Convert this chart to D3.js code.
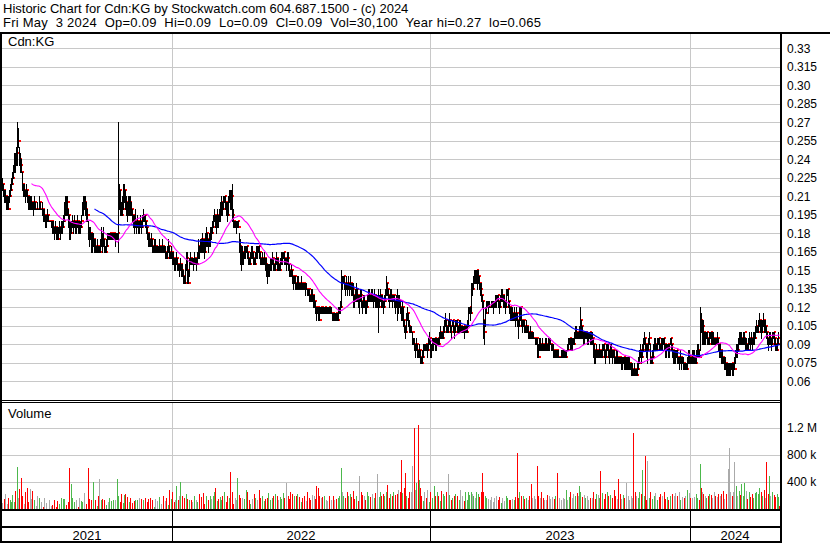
<!DOCTYPE html>
<html><head><meta charset="utf-8">
<script src="https://cdn.jsdelivr.net/npm/d3@7"></script>
<style>
body{margin:0;background:#fff}
svg{display:block}
text{font-family:"Liberation Sans",Arial,sans-serif;fill:#000}
</style>
</head><body>
<svg id="chart" width="830" height="543"></svg>
<script>
// ---------- DATA (prices in cents, volume in thousands of shares) ----------
const titleLine1 = "Historic Chart for Cdn:KG by Stockwatch.com 604.687.1500 - (c) 2024";
const titleLine2 = "Fri May  3 2024  Op=0.09  Hi=0.09  Lo=0.09  Cl=0.09  Vol=30,100  Year hi=0.27  lo=0.065";
const symbolLabel = "Cdn:KG";
const volumeLabel = "Volume";
const yearLabels = ["2021", "2022", "2023", "2024"];
const yearStartDay = [0, 170, 428, 688];
const priceTickLabels = ["0.06","0.075","0.09","0.105","0.12","0.135","0.15","0.165","0.18","0.195","0.21","0.225","0.24","0.255","0.27","0.285","0.30","0.315","0.33"];
const volumeTickValues = [400, 800, 1200];
const volumeTickLabels = ["400 k", "800 k", "1.2 M"];
const maShortPeriod = 30;
const maLongPeriod = 93;

const high = [
22.5,22,21.5,21.5,21,21,21,21.5,22,22.5,
23,23.5,24.5,24.5,25,27,26.5,25,24.5,24,
23,22,22,21.5,22,21.5,21,21,21,21,
20.5,20.5,21,20.5,20,20.5,20,21,20.5,20,
20.5,20,20,19.5,19.5,20,19.5,19,19,19,
19,19,18.5,19,18.5,18.5,18.5,19,18.5,19,
19,19.5,20.5,21,21,21,20,19.5,19,19,
19.5,19,19.5,19,19,19.5,19,19,19,19.5,
20.5,21,21,21,20.5,20,19,18.5,18.5,18,
18,18,17.5,17.5,17,17.5,17,17,17.5,18.5,
18,18.5,17.5,17,17.5,18,18,18,18,18,
18,18,18,18,18,18,27,22,21.5,20.5,
21,22,22,21.5,21,20.5,21,21,21,20.5,
20,19.5,19.5,20,19,19.5,19,19,19.5,19,
19.5,20,19.5,19.5,19,18.5,18,18,17.5,18,
17.5,17,17.5,17.5,17,17,17,17.5,17,17,
17.5,17,17,17,16.5,17,17.5,17,16.5,17,
16.5,16.5,16,16,16.5,16,15.5,15.5,16,15.5,
15.5,15,14.5,15.5,16.5,16.5,15,16,16.5,16,
16,16,16.5,16,16,16.5,17.5,17,17.5,17.5,
18,17.5,17.5,18,18.5,18,17.5,18,18.5,18.5,
19,19.5,20,19.5,19.5,20,19.5,20,20.5,21,
20.5,21,21,21,20.5,20.5,21,21.5,21.5,21.5,
22,20,19,19,19,19,19,18,17.5,17,
17,16.5,17,17,17,17,16.5,16,16.5,17,
17,16.5,16,16.5,17,17,17,17,16.5,16,
16.5,16,16.5,16,16,15.5,15.5,15.5,16,16,
16.5,16,15.5,16,16.5,16,16,15.5,16,16.5,
16.5,16.5,16.5,16,16,16.5,16.5,15.5,15,15.5,
15,14.5,14.5,14.5,14,14.5,14.5,14,14,14.5,
14,14,14,14,14,13.5,13.5,13.5,13,13.5,
13.5,13,13,12.5,12,12,12,12,12,12,
12,12,12,12,12,12,12,12,12,12,
11.5,11.5,11.5,11.5,11.5,11.5,12,12,12.5,15,
14.5,14.5,14.5,14,14.5,14,14.5,14,14.5,14,
14,14,13,13.5,14,13.5,13,13,13.5,13.5,
12.5,13,13,12.5,12.5,13,13.5,13.5,13,13.5,
13.5,13,13.5,13,13,13,13.5,13,13.5,13,
13,12.5,13,13.5,14.5,14,13.5,13,13.5,13.5,
13,13,13,12.5,13,13.5,13,13,12.5,12,
12.5,12,11,10.5,11.5,12,11.5,11,10.5,10.5,
10,9.5,9.5,9,9.5,9,8.5,9,8.5,8,
8.5,9,9,9,9,9,9.5,10,9.5,9,
9.5,9.5,9.5,9.5,9.5,9.5,9.5,10,10.5,10,
10,10.5,11,11.5,11,10.5,11,11.5,11,10.5,
11,11,10.5,11,11,11,10.5,11,11,10.5,
10.5,10.5,10.5,10.5,10.5,11,12,12,12,14,
14,14.5,15,15,15,15,15,14.5,14,14,
13,12.5,11,12,12.5,12.5,12.5,12.5,12,12.5,
12.5,12.5,12.5,13,13,13,13,12.5,13,13.5,
13.5,13,13,12.5,13.5,13.5,13.5,12.5,12,12,
12,11.5,12,11.5,12,11.5,11,12,12,12,
11,11,11,10.5,11,10.5,10.5,10,10.5,10,
10,10,9.5,9.5,9.5,9.5,9,9.5,9.5,9,
9.5,9,9,9.5,9.5,9,9.5,9.5,9.5,9,
9,9,8.5,8.5,8.5,8.5,8.5,8,8,8.5,
8.5,8.5,8.5,8.5,8.5,9,9.5,9.5,9.5,9.5,
9.5,9.5,10,10.5,10.5,10,10,10.5,12,11,
10.5,10,10,10,10,10,10,10,10,10,
10,9.5,9,8.5,9,8.5,8.5,9,8.5,8.5,
9,9,9,8.5,9,9,9,8.5,9,9,
8.5,8.5,8.5,8,8.5,8.5,8,8,8,8,
8,8,8,8,8,8,8,8,7.5,7.5,
7.5,7,7.5,7,7,7.5,8,8.5,9,8.5,
9,9.5,10,9.5,9,9,9.5,10,9,8,
8.5,9,9.5,9.5,9,9.5,9.5,9.5,9,9.5,
9.5,9.5,9.5,9,9,9,9,9,9.5,9.5,
9,8.5,8.5,8.5,8.5,8.5,8,8,8.5,8,
8,8,7.5,7.5,7.5,8,8.5,8.5,8,8,
8.5,8.5,8.5,8,8.5,9,9,8.5,12,11.5,
11,11,10,10,10,10,9.5,10,10,10,
10,10,9.5,9.5,9.5,10,9.5,9,9,8.5,
8.5,8,8,8,7.5,7.5,7.5,7.5,7.5,7.5,
7.5,7.5,8,8.5,9,9,9.5,10,10,10,
9.5,10,10,9.5,9.5,9,9.5,10,9.5,10,
9.5,10,10,10.5,11,10.5,11,11.5,11,11,
11,11.5,11,11,10.5,10,9.5,10,10,9.5,
10,10,10,9.5,9,9.5,10,9
];

const low = [
21.5,21,20.5,20.5,20,20,20,20.5,21,21.5,
22,22.5,23,23,23.5,23.5,25,23.5,23,23,
21.5,21,21,20.5,21,20.5,20,20,20,20,
20,19.5,20,20,20,20,20,20,20,20,
19.5,19,19,18.5,18.5,19,19,19,19,18.5,
18,18,17.5,18,17.5,17.5,17.5,18,17.5,18,
18,18.5,19,19.5,19.5,19.5,18.5,17.5,17.5,18,
18.5,18,18.5,18,18,18.5,18,18,18,18.5,
19.5,19.5,20,19.5,19,19,17.5,17,17.5,16.5,
16.5,17,16.5,16.5,16.5,16.5,16.5,16.5,16.5,17,
16.5,17,16.5,16.5,16.5,17,17.5,17.5,17.5,17.5,
17.5,17.5,17.5,17,17.5,17.5,16.5,20,19.5,19.5,
19.5,20,20.5,20,19.5,19,19.5,19.5,19.5,19.5,
19,18.5,18,18.5,18,18.5,18,18,18.5,18,
18.5,19,19,18.5,18,17.5,17,17,17,17,
16.5,16.5,16.5,16.5,16.5,16.5,16.5,16.5,16.5,16.5,
16.5,16.5,16.5,16,16,16,16.5,16,16,16,
15.5,15.5,15,15,15.5,15,15,14.5,15,14.5,
14.5,14,14,14,15,14,14,14.5,15.5,15.5,
15.5,15,15.5,15.5,15,15.5,16,16,16.5,16.5,
16.5,16.5,16,16.5,17,17,16.5,17,17,17.5,
18,18.5,19,18.5,18,18.5,18.5,19,19,19.5,
19.5,20,20.5,20,19.5,19,19.5,20.5,20,20,
19,18.5,18.5,18.5,18,18.5,18.5,16.5,15.5,15,
15.5,15.5,16,16,16.5,16,15.5,15.5,15.5,16,
16,15.5,15.5,15.5,16,16,16.5,16,15.5,15.5,
15.5,15.5,15.5,15,14.5,14,14.5,14.5,15,15,
15.5,15,15,15,15.5,15,15,15,15,15.5,
15.5,16,15.5,15.5,15,15.5,15,14.5,14.5,14.5,
14,13.5,14,13.5,13.5,13.5,13.5,13.5,13.5,13.5,
13.5,13.5,13.5,13,13.5,13,13,12.5,12.5,12.5,
12.5,12,12,11.5,11,11.5,11,11,11.5,11.5,
11.5,11.5,11.5,11.5,11.5,11.5,11.5,11.5,11.5,11.5,
11,11,11,11,11,11,11,11.5,11.5,12,
13.5,14,13.5,13,13.5,13,13.5,13,13.5,13,
13,12,12,12.5,12.5,12.5,12,11.5,12.5,12,
11.5,12,12,11.5,11.5,12,12.5,12.5,12.5,12.5,
12.5,12,12.5,12,12,12,10,12,12.5,12,
12,11.5,12,12.5,13,13,12.5,12,12.5,12.5,
12,12.5,12,11.5,12,11,11.5,12,11.5,11,
11,10.5,10,9.5,10,11,10.5,10,10,10,
9,9,8.5,8,8.5,8,8,8,7.5,7.5,
7.5,8,8.5,8.5,8.5,8,8.5,9,8,8,
8.5,8.5,9,8.5,8.5,9,9,9,9.5,9.5,
9.5,9.5,10,10.5,10,10,10,10.5,10,9.5,
10.5,10,9.5,10,10.5,10,10,10,10,10,
10,10,9.5,10,10,10,10.5,11.5,11,11.5,
13,13.5,14,14,14,13.5,14,13.5,13,12.5,
12,9.5,9,10.5,11.5,12,11.5,12,12,12,
12,11.5,12,12,12,12.5,12,11.5,12,12.5,
12.5,12,12,11.5,12,13,12,11.5,11,11,
11,11,11,10.5,11,10.5,9.5,10.5,11,10.5,
10,10.5,10,10,10,10,9.5,9.5,9.5,9.5,
9.5,9.5,9.5,9,9,8,8,8.5,8.5,8.5,
8.5,8.5,8.5,8.5,8.5,8.5,8.5,8.5,9,8.5,
8.5,8,8,8,8,8,8,8,8,8,
8,8,8,8,8,8.5,8.5,9,8.5,8.5,
8.5,9,9,9.5,9.5,9.5,9.5,9.5,9.5,9.5,
9.5,9,9,9.5,9.5,9,9,9.5,9,9,
9,8,7.5,7.5,8,8,8,8,8,8,
8,8.5,8,7.5,8,8.5,8,7.5,8,8,
7.5,8,7.5,7.5,7.5,7.5,7.5,7.5,7.5,7,
7,7.5,7,7,7,7,7,7,7,6.5,
6.5,6.5,6.5,6.5,6.5,6.5,7,7.5,8,7.5,
8,8.5,9,8.5,8,7.5,8.5,9,7.5,7.5,
7.5,8,8.5,8.5,8.5,8.5,9,8.5,8.5,8.5,
8.5,9,8.5,8,8,8.5,8,8,9,8.5,
8,7.5,7.5,7.5,8,7.5,7.5,7,7.5,7,
7.5,7,7,7,7,7,7.5,7.5,7.5,7.5,
7.5,7.5,7.5,7.5,7.5,8,8,8,8.5,10,
9,9,9,9,9.5,9,9,9,9.5,9,
9,9,9,9,9,9,8.5,8,8,7.5,
7.5,7.5,7,7,6.5,6.5,6.5,6.5,6.5,7,
6.5,6.5,7,7.5,8,8,8.5,9,9,9,
9,9,9,8.5,8.5,8.5,8.5,9,8.5,9,
8.5,9,9,9.5,10,10,10,10.5,10,9.5,
10,10.5,10,10,9.5,9,8.5,9,9,8.5,
9,9.5,9,8.5,8.5,8.5,9,9
];

const close = [
22,21.5,21,21,20.5,20.5,20,21,21.5,22,
22.5,23.5,24,23.5,24.5,25.5,25.5,24,23.5,23,
22,21.5,21.5,21,21.5,21,20.5,20.5,20.5,20.5,
20,20,20.5,20,20,20,20,20.5,20,20,
20,19.5,19.5,19,19,19.5,19,19,19,19,
18.5,18.5,18,18.5,18,17.5,18,18.5,18,18.5,
18.5,19,19.5,20.5,20,20.5,19.5,18.5,18,18.5,
19,18.5,19,18.5,18.5,19,18.5,18.5,18.5,19,
20,20.5,20.5,20,19.5,19.5,18,17.5,18,17,
17,17.5,17,16.5,16.5,17,16.5,16.5,17,17.5,
17,17.5,16.5,16.5,17,17.5,17.5,18,17.5,18,
17.5,18,17.5,17.5,17.5,18,21,21.5,20,19.5,
20,21,21.5,20.5,20,19.5,20,20.5,20,20,
19.5,19,18.5,19,18.5,19,18.5,18.5,19,18.5,
19,19.5,19.5,19,18.5,18,17.5,17.5,17,17.5,
17,16.5,17,17,16.5,16.5,16.5,17,16.5,16.5,
17,16.5,16.5,16.5,16,16.5,17,16.5,16,16.5,
16,16,15.5,15.5,16,15.5,15,15,15.5,15,
14.5,14.5,14,15,16,15,14,15.5,16,15.5,
15.5,15.5,16,15.5,15.5,16,17,16.5,17.5,17,
17.5,17,16.5,17.5,18,17.5,17,17.5,18,18,
18.5,19,19.5,19,18.5,19.5,19,19.5,20,20.5,
20,20.5,21,20.5,20,19.5,20.5,21,20.5,21,
19.5,19,18.5,18.5,18.5,19,18.5,17,16.5,16.5,
16.5,16,16.5,16.5,17,16.5,16,15.5,16,16.5,
16.5,16,15.5,16,16.5,16.5,17,16.5,16,15.5,
16,15.5,16,15.5,15,14.5,15,15,15.5,15.5,
16,15.5,15,15.5,16,15.5,15.5,15,15.5,16,
16,16.5,16,15.5,15.5,16,15.5,15,14.5,15,
14.5,14,14.5,14,13.5,14,14,13.5,13.5,14,
13.5,14,13.5,13.5,13.5,13,13.5,13,12.5,13,
13,12.5,12.5,12,11.5,12,11.5,11,12,12,
11.5,11.5,12,11.5,11.5,11.5,12,11.5,11.5,11.5,
11.5,11,11,11.5,11,11,11.5,12,12,14,
14,14.5,14,13.5,14,13.5,14,13.5,14,13.5,
13.5,13,12.5,13,13.5,13,12.5,12.5,13,12.5,
12,12.5,12.5,12,12,12.5,13,13,12.5,13,
13,12.5,13,12.5,12.5,12.5,12,12.5,13,12.5,
12.5,12,12.5,13,14,13.5,13,12.5,13,13,
12.5,13,12.5,12,12.5,12,12,12.5,12,11.5,
12,11,10.5,10,11,11.5,10.5,10,10,10,
10,9,8.5,8.5,9,8.5,8,8.5,8,7.5,
8,8.5,8.5,9,8.5,8.5,9,9.5,8.5,8.5,
9,9,9.5,9,9,9.5,9,9.5,10,9.5,
9.5,10,10.5,11,10.5,10,10,11,10.5,10,
11,10.5,10,10.5,11,10.5,10,10.5,10.5,10,
10,10.5,10,10.5,10,10.5,11.5,12,11.5,13.5,
13.5,14,14.5,14.5,15,14,14.5,14,13.5,13,
12.5,11,10,11.5,12,12,12,12,12,12,
12,12,12,12.5,12.5,13,12.5,12,12.5,13,
13,12.5,12.5,12,13,13.5,12.5,12,11.5,11.5,
11.5,11,11.5,11,11.5,11,10.5,11.5,12,11,
10.5,11,10.5,10,10.5,10,10,9.5,10,9.5,
9.5,9.5,9.5,9.5,9.5,8.5,8,9,9,8.5,
9,8.5,8.5,9,9,8.5,9,9,9,8.5,
8.5,8.5,8,8.5,8.5,8,8,8,8,8,
8,8,8,8,8.5,8.5,9,9.5,9,9,
9,9,9.5,10,10,9.5,9.5,10,11,10.5,
10,9.5,9.5,10,9.5,9.5,9.5,10,9.5,9.5,
9.5,9,8.5,8,8.5,8,8,8.5,8,8,
8.5,9,8.5,8,8.5,9,8.5,8,8.5,8.5,
8,8.5,8,7.5,8,8,7.5,8,7.5,7.5,
7.5,8,7.5,7.5,7.5,7.5,7.5,7.5,7,7,
7,6.5,7,6.5,6.5,7,7.5,8,8.5,8,
8.5,9,9.5,9,8.5,8.5,9,9.5,8,7.5,
8,8.5,9,9,8.5,9,9.5,9,8.5,9,
9,9.5,9,8.5,8.5,9,8.5,8.5,9.5,9,
8.5,8,8,8,8.5,8,7.5,7.5,8,7.5,
7.5,7.5,7,7,7,7.5,8,8,7.5,8,
8,8,8,7.5,8,8.5,8.5,8,11,10.5,
10.5,10,9.5,9.5,10,9.5,9,9.5,10,9.5,
9.5,9.5,9.5,9,9.5,9.5,9,8.5,8.5,8,
8,7.5,7.5,7.5,7,7,7,7,7,7.5,
7,7,7,8,8.5,8.5,9,9.5,9,9.5,
9,9.5,10,9,9,8.5,9,9.5,9,9.5,
9,9.5,9.5,10,10.5,10,10.5,11,10.5,10,
10.5,11,10.5,10.5,10,9.5,9,9.5,9.5,9,
9.5,10,9.5,9,8.5,9,9.5,9
];

const volume = [
80,0,140,210,0,60,160,0,120,90,
200,0,100,260,0,608,150,290,0,450,
180,0,60,250,0,310,90,0,290,140,
260,0,120,0,30,180,0,150,0,90,
0,20,160,0,80,0,0,125,0,35,
45,0,120,0,15,110,0,70,0,160,
0,135,140,0,55,0,100,600,0,370,
160,0,90,0,130,0,20,150,0,110,
100,0,230,0,70,0,600,145,0,130,
0,400,0,120,0,40,190,430,0,130,
140,0,120,0,50,0,90,160,0,110,
0,130,0,120,0,430,180,0,90,220,
0,80,200,220,0,170,0,90,150,0,
80,0,110,130,0,120,0,150,0,140,
0,120,0,160,0,90,140,0,150,0,
130,0,20,140,0,110,0,170,0,60,
0,180,0,110,160,0,50,270,0,140,
250,0,100,130,330,0,120,180,400,0,
190,0,150,0,210,140,0,130,0,130,
100,0,180,0,120,90,0,210,0,170,
0,230,70,0,190,0,120,0,180,140,
0,190,250,300,0,110,140,0,170,130,
190,0,240,0,100,180,0,160,540,0,
250,70,0,160,130,450,0,200,150,0,
160,0,140,0,270,250,0,130,60,0,
140,0,220,150,0,130,0,280,160,0,
180,0,110,140,0,160,230,0,130,0,
160,190,0,220,0,180,130,0,170,140,
0,230,160,0,375,0,180,140,250,0,
210,0,190,0,180,220,0,170,0,100,
160,0,180,0,110,240,0,160,120,0,
200,0,180,140,330,0,300,190,0,150,
170,0,190,0,130,110,0,180,0,120,
0,190,130,0,140,0,150,180,0,600,
250,190,0,160,0,240,180,0,210,170,
0,260,140,0,180,0,110,485,0,240,
200,0,180,130,0,250,190,0,170,0,
210,0,150,230,0,510,0,170,250,190,
0,220,180,0,240,345,0,160,210,0,
180,240,0,200,0,220,280,0,250,716,
230,0,310,524,190,0,160,240,0,250,
632,0,1190,280,380,0,1235,420,300,190,
0,110,240,0,150,270,0,100,250,0,
160,0,330,190,0,250,180,0,110,260,
0,220,190,0,250,0,510,200,0,130,
160,0,190,210,0,180,0,120,270,0,
190,0,110,250,0,130,250,200,0,240,
210,190,0,160,250,0,220,170,0,240,
533,250,0,190,160,0,140,0,130,170,
0,100,160,0,190,0,120,170,0,80,
160,0,110,0,180,150,0,120,130,0,
140,0,130,170,0,820,160,250,0,180,
0,190,140,0,160,0,130,180,0,370,
160,0,190,140,0,632,180,0,160,240,
0,150,120,0,130,200,0,180,140,0,
170,0,140,190,0,524,0,150,0,130,
0,160,140,0,280,120,0,170,240,0,
160,220,0,180,0,230,190,330,240,0,
170,0,200,160,0,190,130,0,150,0,
160,250,0,140,220,0,200,150,553,0,
230,0,140,210,0,250,190,0,200,0,
150,0,280,190,0,140,435,0,210,140,
0,200,150,0,375,0,190,130,0,180,
160,1116,0,240,180,0,160,250,0,210,
568,0,180,780,130,706,0,160,250,0,
140,0,180,230,0,130,0,170,220,0,
190,0,240,140,0,170,130,0,180,0,
210,0,190,230,0,180,0,250,120,0,
170,0,160,190,0,280,0,230,160,0,
150,0,170,0,220,160,0,130,657,300,
250,210,0,180,160,0,190,220,0,200,
160,0,240,190,0,170,210,0,180,220,
0,260,140,0,210,0,583,890,250,0,
190,240,682,0,330,180,0,260,200,370,
0,180,385,0,260,140,0,250,170,0,
210,160,0,230,250,0,220,300,0,240,
190,0,270,150,682,0,220,484,180,0,
240,0,200,163,0,220,170,30
];

// ---------- CHART ----------
const svg = d3.select("#chart");
const W = 830, H = 543;
const N = Math.min(high.length, low.length, close.length, volume.length);

const plotLeft = 2, plotRight = 780;
const priceTop = 34, priceBottom = 400;
const volTop = 403, volBottom = 509;

const x = d3.scaleLinear().domain([0, 778]).range([2, 780]);
const y = d3.scaleLinear().domain([0.06, 0.33]).range([381.3, 48.3]);
const yv = d3.scaleLinear().domain([0, 1200]).range([508.5, 427.5]);

svg.append("rect").attr("width", W).attr("height", H).attr("fill", "#fff");

// header
svg.append("text").attr("x", 3).attr("y", 13).style("font-size", "13px").text(titleLine1);
svg.append("text").attr("x", 3).attr("y", 27).style("font-size", "13px")
  .attr("xml:space", "preserve").style("white-space", "pre")
  .attr("textLength", 538).attr("lengthAdjust", "spacing").text(titleLine2);

// grid: price
const priceTicks = priceTickLabels.map(Number);
const grid = svg.append("g").attr("stroke", "#c8c8c8").attr("stroke-width", 1).attr("shape-rendering", "crispEdges");
grid.selectAll("line.hp").data(priceTicks).join("line")
  .attr("x1", plotLeft).attr("x2", plotRight)
  .attr("y1", d => Math.round(y(d)) + 0.5).attr("y2", d => Math.round(y(d)) + 0.5);
grid.selectAll("line.hv").data(volumeTickValues).join("line").attr("class", "hv")
  .attr("x1", plotLeft).attr("x2", plotRight)
  .attr("y1", d => Math.round(yv(d)) + 0.5).attr("y2", d => Math.round(yv(d)) + 0.5);
const yearBounds = yearStartDay.slice(1).map(d => Math.round(x(d)));
yearBounds.forEach(bx => {
  grid.append("line").attr("x1", bx + 0.5).attr("x2", bx + 0.5).attr("y1", priceTop).attr("y2", priceBottom);
  grid.append("line").attr("x1", bx + 0.5).attr("x2", bx + 0.5).attr("y1", volTop).attr("y2", volBottom);
});

// price bars (high-low line + close tick), drawn day by day
const bars = svg.append("g").attr("shape-rendering", "crispEdges");
const marks = [];
for (let i = 0; i < N; i++) {
  const hi = Math.max(high[i], close[i]) / 100, lo = Math.min(low[i], close[i]) / 100;
  marks.push({t: "bar", i, hi, lo});
  marks.push({t: "tick", i, c: close[i] / 100});
}
bars.selectAll("rect").data(marks).join("rect")
  .attr("x", d => d.t === "bar" ? Math.round(x(d.i)) : Math.round(x(d.i)) + 1)
  .attr("y", d => d.t === "bar" ? Math.round(y(d.hi)) : Math.round(y(d.c)) - 1)
  .attr("width", d => d.t === "bar" ? 1 : 2)
  .attr("height", d => d.t === "bar" ? Math.max(1, Math.round(y(d.lo)) - Math.round(y(d.hi)) + 1) : 2)
  .attr("fill", d => d.t === "bar" ? "#000" : "#ff0000");

// moving averages
function sma(period) {
  const out = [];
  for (let i = period - 1; i < N; i++) {
    out.push({i, v: d3.mean(close.slice(i - period + 1, i + 1)) / 100});
  }
  return out;
}
const line = d3.line().x(d => x(d.i) + 0.5).y(d => y(d.v));
svg.append("path").datum(sma(maLongPeriod)).attr("d", line)
  .attr("fill", "none").attr("stroke", "#0000ff").attr("stroke-width", 1.2);
svg.append("path").datum(sma(maShortPeriod)).attr("d", line)
  .attr("fill", "none").attr("stroke", "#ff00ff").attr("stroke-width", 1.1);

// volume bars
const vb = svg.append("g").attr("shape-rendering", "crispEdges");
const volData = d3.range(N).map(i => ({i, v: volume[i],
  col: i === 0 ? "#aaaaaa" : close[i] > close[i - 1] ? "#4cb84c" : close[i] < close[i - 1] ? "#ff0000" : "#aaaaaa"}));
vb.selectAll("rect").data(volData.filter(d => d.v > 0)).join("rect")
  .attr("x", d => Math.round(x(d.i)))
  .attr("y", d => Math.round(yv(d.v)))
  .attr("width", 1)
  .attr("height", d => 509 - Math.round(yv(d.v)))
  .attr("fill", d => d.col);

// frame lines
const frame = svg.append("g").attr("fill", "#000").attr("shape-rendering", "crispEdges");
frame.append("rect").attr("x", 0).attr("y", 32).attr("width", W).attr("height", 2);
frame.append("rect").attr("x", 0).attr("y", 32).attr("width", 2).attr("height", H - 32);
frame.append("rect").attr("x", 780).attr("y", 32).attr("width", 2).attr("height", H - 32);
frame.append("rect").attr("x", 0).attr("y", 400).attr("width", 782).attr("height", 1);
frame.append("rect").attr("x", 0).attr("y", 402).attr("width", 782).attr("height", 1);
frame.append("rect").attr("x", 0).attr("y", 509).attr("width", 782).attr("height", 2);
frame.append("rect").attr("x", 0).attr("y", 526).attr("width", 782).attr("height", 2);
frame.append("rect").attr("x", 0).attr("y", 541).attr("width", 782).attr("height", 2);
yearBounds.forEach(bx => frame.append("rect").attr("x", bx).attr("y", 509).attr("width", 1).attr("height", 34));

// labels
svg.append("text").attr("x", 8).attr("y", 46).style("font-size", "13px").text(symbolLabel);
svg.append("text").attr("x", 8).attr("y", 418).style("font-size", "13px").text(volumeLabel);

svg.append("g").selectAll("text").data(priceTickLabels).join("text")
  .attr("x", 787).attr("y", d => y(+d)).attr("dy", "0.35em")
  .style("font-size", "12px").text(d => d);
svg.append("g").selectAll("text").data(volumeTickValues).join("text")
  .attr("x", 787).attr("y", d => yv(d)).attr("dy", "0.35em")
  .style("font-size", "12px").text((d, k) => volumeTickLabels[k]);

const yearEdges = yearStartDay.map(d => x(d)).concat([780]);
svg.append("g").selectAll("text").data(yearLabels).join("text")
  .attr("x", (d, k) => (yearEdges[k] + yearEdges[k + 1]) / 2).attr("y", 540)
  .attr("text-anchor", "middle").style("font-size", "13px").text(d => d);
</script>
</body></html>
